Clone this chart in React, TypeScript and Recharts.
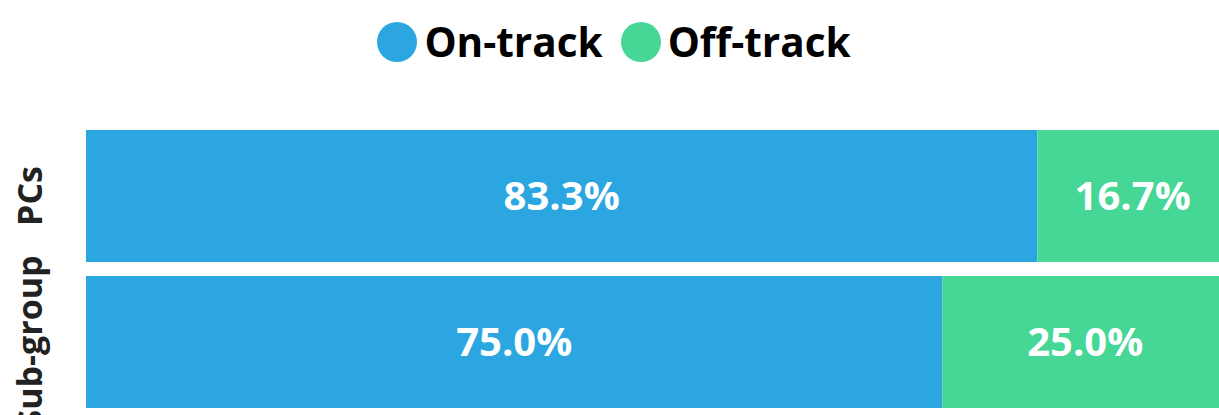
import { BarChart, Bar, XAxis, YAxis, Legend, LabelList } from "recharts";

const categories = ["PCs", "Sub-group"];
const seriesNames = ["On-track", "Off-track"];
const onTrack = [83.3, 75.0];
const offTrack = [16.7, 25.0];

const BLUE = "#2BA6E0";
const GREEN = "#46D696";
const FONT = "'Open Sans', 'Noto Sans', sans-serif";

const data = categories.map((name, i) => ({
  name,
  onTrack: onTrack[i],
  offTrack: offTrack[i],
}));

function LegendContent({ payload }: any) {
  const items = [...(payload || [])].sort(
    (a: any, b: any) => seriesNames.indexOf(a.value) - seriesNames.indexOf(b.value)
  );
  return (
    <div
      style={{
        height: 123,
        display: "flex",
        justifyContent: "center",
        alignItems: "flex-start",
        gap: 18,
        boxSizing: "border-box",
      }}
    >
      {items.map((p: any) => (
        <div
          key={p.value}
          style={{ display: "flex", alignItems: "center", marginTop: 10, height: 64 }}
        >
          <span
            style={{
              display: "inline-block",
              width: 40,
              height: 40,
              borderRadius: "50%",
              background: p.color,
              marginRight: 7,
            }}
          />
          <span
            style={{
              fontFamily: FONT,
              fontWeight: 700,
              fontSize: 40.5,
              color: "#000",
              lineHeight: "40px",
            }}
          >
            {p.value}
          </span>
        </div>
      ))}
    </div>
  );
}

function CategoryTick({ x, y, payload }: any) {
  return (
    <text
      transform={`translate(${x - 49}, ${y}) rotate(-90)`}
      textAnchor="middle"
      dominantBaseline="central"
      fill="#222"
      fontFamily={FONT}
      fontWeight={700}
      fontSize={34}
    >
      {payload.value}
    </text>
  );
}

const fmt = (v: any) => `${Number(v).toFixed(1)}%`;

export default function App() {
  return (
    <div
      style={{
        position: "absolute",
        left: 0,
        top: 0,
        width: 1219,
        height: 415,
        overflow: "hidden",
        background: "#fff",
      }}
    >
      <BarChart
        width={1228}
        height={415}
        data={data}
        layout="vertical"
        margin={{ top: 0, right: 0, bottom: 0, left: 0 }}
        barCategoryGap={7}
      >
        <XAxis type="number" domain={[0, 100]} hide />
        <YAxis
          type="category"
          dataKey="name"
          width={86}
          axisLine={false}
          tickLine={false}
          tick={<CategoryTick />}
        />
        <Legend verticalAlign="top" align="center" content={<LegendContent />} />
        <Bar dataKey="onTrack" name="On-track" stackId="a" fill={BLUE} isAnimationActive={false}>
          <LabelList
            dataKey="onTrack"
            position="center"
            formatter={fmt}
            fill="#fff"
            fontFamily={FONT}
            fontWeight={700}
            fontSize={40}
          />
        </Bar>
        <Bar dataKey="offTrack" name="Off-track" stackId="a" fill={GREEN} isAnimationActive={false}>
          <LabelList
            dataKey="offTrack"
            position="center"
            formatter={fmt}
            fill="#fff"
            fontFamily={FONT}
            fontWeight={700}
            fontSize={40}
          />
        </Bar>
      </BarChart>
    </div>
  );
}
